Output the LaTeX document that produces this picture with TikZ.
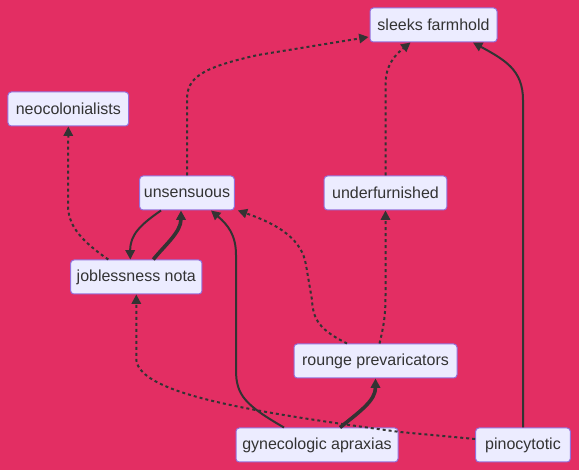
\documentclass[tikz,border=0pt]{standalone}
\usepackage{fontspec}
\setmainfont{Liberation Sans}
\usetikzlibrary{arrows.meta,calc}
\definecolor{bgc}{RGB}{227,46,99}
\definecolor{nfill}{HTML}{ECECFF}
\definecolor{nborder}{HTML}{9370DB}
\definecolor{ecol}{HTML}{333333}
\tikzset{
  box/.style={draw=nborder, fill=nfill, line width=0.75pt, rounded corners=2.5pt,
    minimum height=25.5pt, inner sep=0pt, text=ecol, font=\fontsize{12pt}{14pt}\selectfont},
  solidedge/.style={draw=ecol, line width=1.5pt, -{Triangle[length=7pt,width=7pt]}},
  thickedge/.style={draw=ecol, line width=2.7pt, -{Triangle[length=7pt,width=7pt]}},
  dotedge/.style={draw=ecol, line width=1.5pt, dash pattern=on 2.25pt off 2.25pt, -{Triangle[length=7pt,width=7pt]}},
}
\begin{document}
\begin{tikzpicture}[x=0.75pt,y=-0.75pt]
\fill[bgc] (0,0) rectangle (579,470);
\useasboundingbox (0,0) rectangle (579,470);
% nodes
\node[box, minimum width=95.25pt] (sl) at (433.5,25) {sleeks farmhold};
\node[box, minimum width=90.5pt] (neo) at (68.3,109) {neocolonialists};
\node[box, minimum width=71pt] (uns) at (187,193) {unsensuous};
\node[box, minimum width=92pt] (und) at (385.5,193) {underfurnished};
\node[box, minimum width=98.5pt] (job) at (136.3,277) {joblessness nota};
\node[box, minimum width=122.25pt] (rp) at (375.5,361) {rounge prevaricators};
\node[box, minimum width=121.5pt] (gyn) at (317,445) {gynecologic apraxias};
\node[box, minimum width=71pt] (pin) at (523,445) {pinocytotic};
% edges
\draw[dotedge] (uns.north) -- (187,100) .. controls (187,78) and (200,68) .. (258,55) -- ($(sl.west)+(-1,12)$);
\draw[dotedge] (und.north) -- (385.5,85) .. controls (385.5,65) and (395,55) .. ($(sl.south)+(-23,0)$);
\draw[solidedge] (pin.north) -- (523,100) .. controls (523,70) and (505,60) .. ($(sl.south)+(39.5,0)$);
\draw[dotedge] ($(job.north)+(-28,0)$) .. controls (80,240) and (68,225) .. (68,205) -- (neo.south);
\draw[solidedge] ($(uns.south)+(-26,0)$) .. controls (140,225) and (130,235) .. ($(job.north)+(-6,0)$);
\draw[thickedge] ($(job.north)+(17,0)$) .. controls (165,245) and (181,232) .. ($(uns.south)+(-6,0)$);
\draw[solidedge] ($(gyn.north)+(-33,0)$) .. controls (245,405) and (236,395) .. (236,370) -- (236,255) .. controls (236,235) and (228,225) .. ($(uns.south)+(24,0)$);
\draw[dotedge] ($(rp.north)+(-28.5,0)$) .. controls (320,330) and (313,320) .. (312,300) -- (306,265) .. controls (302,240) and (280,225) .. ($(uns.south east)+(3,0)$);
\draw[dotedge] ($(rp.north)+(4,0)$) .. controls (384,325) and (385.5,315) .. (385.5,295) -- (und.south);
\draw[thickedge] ($(gyn.north)+(23,0)$) .. controls (362,410) and (375.5,400) .. (rp.south);
\draw[dotedge] ($(pin.west)+(0,-6)$) -- (400,432) .. controls (260,413) and (140,395) .. (136.3,360) -- (job.south);
\end{tikzpicture}
\end{document}
